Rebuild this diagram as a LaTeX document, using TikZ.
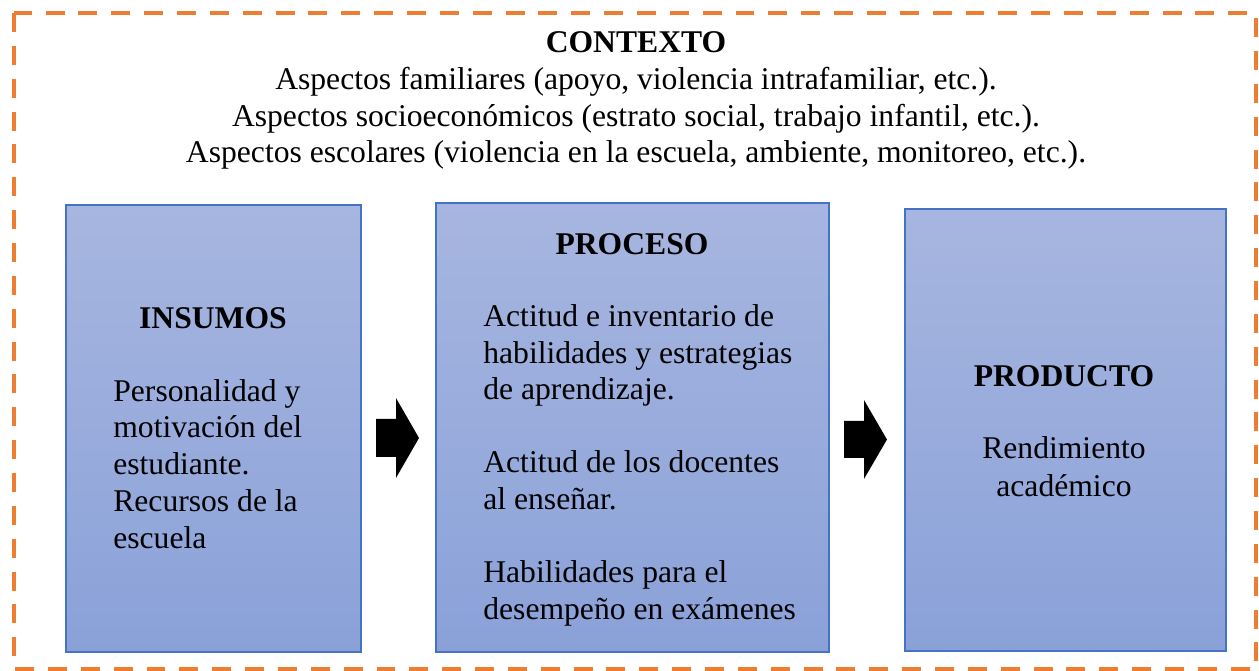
\documentclass[tikz,border=0pt]{standalone}
\usepackage{fontspec}
\setmainfont{Liberation Serif}
\usetikzlibrary{shapes,arrows}

\definecolor{naranja}{HTML}{ED7D31}
\definecolor{bordeazul}{HTML}{4472C4}
\definecolor{azularriba}{HTML}{A7B6E0}
\definecolor{azulabajo}{HTML}{8AA1D8}

\tikzset{
	caja/.style={draw=bordeazul, line width=1.1pt, top color=azularriba, bottom color=azulabajo},
	titulo/.style={font=\fontsize{18}{21}\selectfont\bfseries, inner sep=0pt},
	texto/.style={font=\fontsize{18}{21}\selectfont, inner sep=0pt},
	flecha/.style={fill=black}
}

\begin{document}
\begin{tikzpicture}[x=0.02cm,y=-0.02cm]
		\useasboundingbox (0,0) rectangle (1259,671);
		\draw[naranja, line width=2.3pt, dash pattern=on 10.8pt off 7.9pt] (14,13) rectangle (1256,669);
		% contexto
		\node[titulo, anchor=base] (contexto) at (636,52.5) {CONTEXTO};
		\node[texto, anchor=base] (ctx1) at (636,90) {Aspectos familiares (apoyo, violencia intrafamiliar, etc.).};
		\node[texto, anchor=base] (ctx2) at (636,127) {Aspectos socioeconómicos (estrato social, trabajo infantil, etc.).};
		\node[texto, anchor=base] (ctx3) at (636,163) {Aspectos escolares (violencia en la escuela, ambiente, monitoreo, etc.).};
		% cajas
		\draw[caja] (66,205) rectangle (361,652);
		\draw[caja] (436,203) rectangle (829,652);
		\draw[caja] (905,209) rectangle (1226,651);
		% flechas de bloque
		\fill[flecha] (376,419) -- (396,419) -- (396,398) -- (419,438) -- (396,478) -- (396,457) -- (376,457) -- cycle;
		\fill[flecha] (844,421) -- (864,421) -- (864,400) -- (887,439.5) -- (864,479) -- (864,458) -- (844,458) -- cycle;
		% insumos
		\node[titulo, anchor=base] (insumos) at (213,329) {INSUMOS};
		\node[texto, anchor=base west] (ins1) at (113,401.3) {Personalidad y};
		\node[texto, anchor=base west] (ins2) at (113,438) {motivación del};
		\node[texto, anchor=base west] (ins3) at (113,474.8) {estudiante.};
		\node[texto, anchor=base west] (ins4) at (113,511.5) {Recursos de la};
		\node[texto, anchor=base west] (ins5) at (113,548.3) {escuela};
		% proceso
		\node[titulo, anchor=base] (proceso) at (632,255) {PROCESO};
		\node[texto, anchor=base west] (pro1) at (483,327) {Actitud e inventario de};
		\node[texto, anchor=base west] (pro2) at (483,363.5) {habilidades y estrategias};
		\node[texto, anchor=base west] (pro3) at (483,400) {de aprendizaje.};
		\node[texto, anchor=base west] (pro4) at (483,473) {Actitud de los docentes};
		\node[texto, anchor=base west] (pro5) at (483,510) {al enseñar.};
		\node[texto, anchor=base west] (pro6) at (483,583) {Habilidades para el};
		\node[texto, anchor=base west] (pro7) at (483,620) {desempeño en exámenes};
		% producto
		\node[titulo, anchor=base] (producto) at (1064,387) {PRODUCTO};
		\node[texto, anchor=base] (prd1) at (1064,459) {Rendimiento};
		\node[texto, anchor=base] (prd2) at (1064,496.7) {académico};
	\end{tikzpicture}
\end{document}
